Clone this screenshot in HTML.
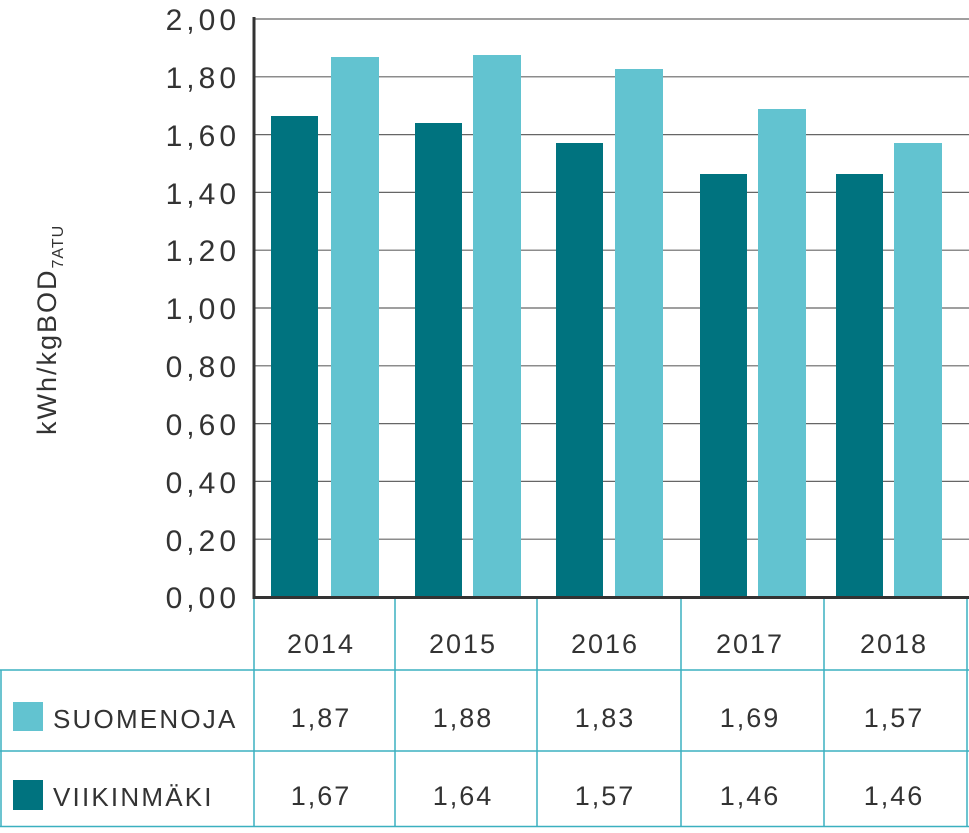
<!DOCTYPE html>
<html><head><meta charset="utf-8"><style>
body{margin:0;background:#fff;}
svg text{font-family:"Liberation Sans",sans-serif;fill:#333;}
</style></head><body>
<svg width="969" height="828" viewBox="0 0 969 828" xmlns="http://www.w3.org/2000/svg">
<g stroke="#666" stroke-width="1.2">
<line x1="254" x2="969" y1="19" y2="19"/>
<line x1="254" x2="969" y1="76.8" y2="76.8"/>
<line x1="254" x2="969" y1="134.6" y2="134.6"/>
<line x1="254" x2="969" y1="192.4" y2="192.4"/>
<line x1="254" x2="969" y1="250.2" y2="250.2"/>
<line x1="254" x2="969" y1="308" y2="308"/>
<line x1="254" x2="969" y1="365.8" y2="365.8"/>
<line x1="254" x2="969" y1="423.6" y2="423.6"/>
<line x1="254" x2="969" y1="481.4" y2="481.4"/>
<line x1="254" x2="969" y1="539.2" y2="539.2"/>
</g>
<g fill="#00737f">
<rect x="271" y="116" width="47" height="481"/>
<rect x="415" y="123" width="47" height="474"/>
<rect x="556" y="143" width="47" height="454"/>
<rect x="700" y="174" width="47" height="423"/>
<rect x="836" y="174" width="47" height="423"/>
</g>
<g fill="#62c3d0">
<rect x="331" y="57" width="48" height="540"/>
<rect x="473" y="55" width="48" height="542"/>
<rect x="615" y="69" width="48" height="528"/>
<rect x="758" y="109" width="48" height="488"/>
<rect x="894" y="143" width="48" height="454"/>
</g>
<line x1="254" x2="254" y1="17" y2="599" stroke="#333" stroke-width="3"/>
<line x1="252.5" x2="969" y1="597.5" y2="597.5" stroke="#333" stroke-width="3"/>
<g font-size="30" text-anchor="end" letter-spacing="4">
<text x="240" y="30">2,00</text><text x="240" y="88">1,80</text><text x="240" y="146">1,60</text>
<text x="240" y="204">1,40</text><text x="240" y="261">1,20</text><text x="240" y="319">1,00</text>
<text x="240" y="377">0,80</text><text x="240" y="435">0,60</text><text x="240" y="493">0,40</text>
<text x="240" y="551">0,20</text><text x="240" y="608">0,00</text>
</g>
<text transform="translate(56,435) rotate(-90)" font-size="27" letter-spacing="2">kWh/kgBOD<tspan font-size="16" dy="7" letter-spacing="1">7ATU</tspan></text>
<g stroke="#3bb0c0" stroke-width="1.5" fill="none">
<line x1="254" x2="254" y1="599" y2="827"/>
<line x1="395" x2="395" y1="599" y2="827"/>
<line x1="537" x2="537" y1="599" y2="827"/>
<line x1="681" x2="681" y1="599" y2="827"/>
<line x1="824" x2="824" y1="599" y2="827"/>
<line x1="967" x2="967" y1="599" y2="827"/>
<line x1="1" x2="1" y1="670" y2="827"/>
<line x1="0" x2="969" y1="670" y2="670"/>
<line x1="0" x2="969" y1="751" y2="751"/>
<line x1="0" x2="969" y1="826.5" y2="826.5"/>
</g>
<g font-size="27" text-anchor="middle" letter-spacing="2">
<text x="321" y="653">2014</text><text x="463" y="653">2015</text><text x="605" y="653">2016</text><text x="750" y="653">2017</text><text x="894" y="653">2018</text>
<text x="321" y="727">1,87</text><text x="463" y="727">1,88</text><text x="605" y="727">1,83</text><text x="750" y="727">1,69</text><text x="894" y="727">1,57</text>
<text x="321" y="805">1,67</text><text x="463" y="805">1,64</text><text x="605" y="805">1,57</text><text x="750" y="805">1,46</text><text x="894" y="805">1,46</text>
</g>
<rect x="13" y="702" width="30" height="29" fill="#62c3d0"/>
<rect x="13" y="780" width="30" height="30" fill="#00737f"/>
<text x="53" y="728" font-size="26" letter-spacing="2.2">SUOMENOJA</text>
<text x="53" y="806" font-size="26" letter-spacing="2.2">VIIKINMÄKI</text>
</svg>
</body></html>
